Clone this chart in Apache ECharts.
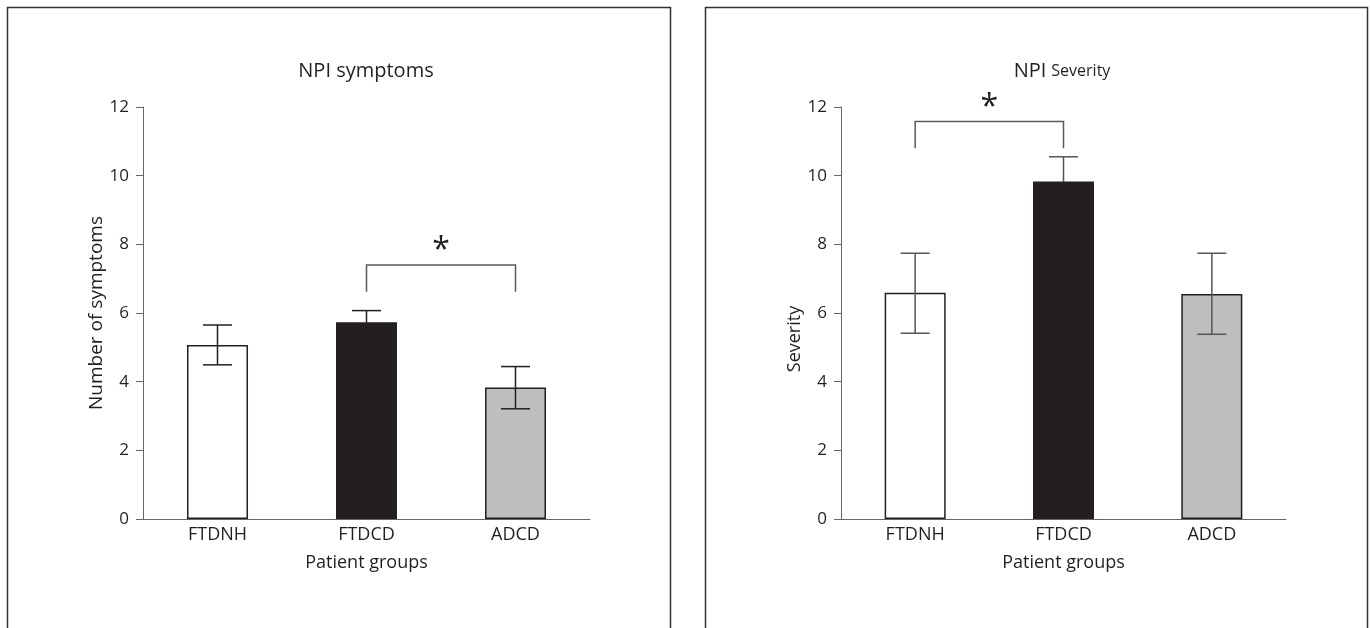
<!DOCTYPE html>
<html>
<head>
<meta charset="utf-8">
<script src="https://cdn.jsdelivr.net/npm/echarts@6/dist/echarts.min.js"></script>
<style>
html,body{margin:0;padding:0;background:#fff;}
#chart{width:1370px;height:628px;}
</style>
</head>
<body>
<div id="chart"></div>
<script>
// ---- data ----
var categories = ['FTDNH', 'FTDCD', 'ADCD'];
var barColors = ['#ffffff', '#231f20', '#bcbec0'];
var yTicks = [0, 2, 4, 6, 8, 10, 12];

var symptomsMean = [5.07, 5.73, 3.83];
var symptomsLow  = [4.49, 5.39, 3.21];
var symptomsHigh = [5.65, 6.07, 4.44];
var symptomsSig  = [1, 2, 7.40, 6.62, 8.05]; // from, to, bracket top, leg end, star

var severityMean = [6.59, 9.83, 6.55];
var severityLow  = [5.41, 9.11, 5.38];
var severityHigh = [7.74, 10.55, 7.74];
var severitySig  = [0, 1, 11.58, 10.80, 12.2];

var FONT = '"Open Sans", "Noto Sans", sans-serif';
var TXT = '#231f20';

function barData(vals) {
  return vals.map(function (v, i) {
    return { value: v, itemStyle: { color: barColors[i] } };
  });
}
function errData(mean, low, high) {
  return low.map(function (l, i) { return [i, l, high[i], mean[i]]; });
}
function errSeries(idx, mean, low, high, color) {
  return {
    type: 'custom', xAxisIndex: idx, yAxisIndex: idx, z: 5,
    data: errData(mean, low, high),
    renderItem: function (params, api) {
      var x = api.value(0);
      var lo = api.coord([x, api.value(1)]);
      var hi = api.coord([x, api.value(2)]);
      var mid = api.coord([x, api.value(3)]);
      var hw = 14.5;
      var st = { stroke: color, lineWidth: 1.5 };
      var lowColor = barColors[params.dataIndex] === '#231f20' ? '#231f20' : color;
      var st2 = { stroke: lowColor, lineWidth: 1.5 };
      return { type: 'group', children: [
        { type: 'line', shape: { x1: hi[0], y1: hi[1], x2: mid[0], y2: mid[1] }, style: st },
        { type: 'line', shape: { x1: mid[0], y1: mid[1], x2: lo[0], y2: lo[1] }, style: st2 },
        { type: 'line', shape: { x1: hi[0] - hw, y1: hi[1], x2: hi[0] + hw, y2: hi[1] }, style: st },
        { type: 'line', shape: { x1: lo[0] - hw, y1: lo[1], x2: lo[0] + hw, y2: lo[1] }, style: st2 }
      ]};
    }
  };
}
function sigSeries(idx, sig) {
  return {
    type: 'custom', xAxisIndex: idx, yAxisIndex: idx, z: 6, clip: false,
    data: [sig],
    renderItem: function (params, api) {
      var a = api.value(0), b = api.value(1);
      var pTopA = api.coord([a, api.value(2)]);
      var pTopB = api.coord([b, api.value(2)]);
      var pLegA = api.coord([a, api.value(3)]);
      var pLegB = api.coord([b, api.value(3)]);
      var starY = api.coord([a, api.value(4)])[1];
      var starX = (pTopA[0] + pTopB[0]) / 2;
      var st = { stroke: '#5a5a5a', lineWidth: 1.5, fill: null };
      return { type: 'group', children: [
        { type: 'polyline', shape: { points: [[pLegA[0], pLegA[1]], [pTopA[0], pTopA[1]], [pTopB[0], pTopB[1]], [pLegB[0], pLegB[1]]] }, style: st },
        { type: 'text', x: starX, y: starY + 8, style: { text: '*', fontSize: 32, fontFamily: FONT, fill: TXT, align: 'center', verticalAlign: 'middle' } }
      ]};
    }
  };
}

function xAxisCfg(idx) {
  return {
    type: 'category', gridIndex: idx, data: categories,
    axisLine: { lineStyle: { color: '#666', width: 1 } },
    axisTick: { show: false },
    axisLabel: { fontSize: 18, color: TXT, fontFamily: FONT, margin: 7 },
    name: 'Patient groups', nameLocation: 'middle', nameGap: 35,
    nameTextStyle: { fontSize: 18, color: TXT, fontFamily: FONT }
  };
}
function yAxisCfg(idx, name, nameSize, pad) {
  return {
    type: 'value', gridIndex: idx, min: yTicks[0], max: yTicks[yTicks.length - 1], interval: 2,
    axisLine: { show: true, lineStyle: { color: '#666', width: 1 } },
    axisTick: { show: true, length: 7, inside: false, lineStyle: { color: '#666' } },
    splitLine: { show: false },
    axisLabel: { fontSize: 17, color: TXT, fontFamily: FONT, margin: 14 },
    name: name, nameLocation: 'middle', nameGap: 37, nameRotate: 90,
    nameTextStyle: { fontSize: nameSize, color: TXT, fontFamily: FONT, padding: pad }
  };
}

var chart = echarts.init(document.getElementById('chart'), null, { renderer: 'canvas' });
chart.setOption({
  backgroundColor: '#ffffff',
  animation: false,
  title: [
    { text: 'NPI symptoms', left: 366, top: 61, textAlign: 'center', padding: 0,
      textStyle: { fontSize: 20, fontWeight: 'normal', color: TXT, fontFamily: FONT } },
    { text: '{a|NPI} {b|Severity}', left: 1062, top: 61, textAlign: 'center', padding: 0,
      textStyle: { fontWeight: 'normal', rich: {
        a: { fontSize: 20, fontWeight: 'normal', color: TXT, fontFamily: FONT },
        b: { fontSize: 16, fontWeight: 'normal', color: TXT, fontFamily: FONT }
      } } }
  ],
  grid: [
    { left: 143, top: 107, width: 447, height: 412 },
    { left: 841, top: 107, width: 445, height: 412 }
  ],
  xAxis: [xAxisCfg(0), xAxisCfg(1)],
  yAxis: [yAxisCfg(0, 'Number of symptoms', 19, [0, 0, 0, 0]), yAxisCfg(1, 'Severity', 18, [0, 52, 0, 0])],
  graphic: [
    { type: 'polyline', shape: { points: [[7.5, 640], [7.5, 7.5], [670.5, 7.5], [670.5, 640]] }, style: { stroke: '#333', lineWidth: 1.5, fill: null } },
    { type: 'polyline', shape: { points: [[705.5, 640], [705.5, 7.5], [1367.5, 7.5], [1367.5, 640]] }, style: { stroke: '#333', lineWidth: 1.5, fill: null } }
  ],
  series: [
    { type: 'bar', xAxisIndex: 0, yAxisIndex: 0, barWidth: 61, data: barData(symptomsMean),
      itemStyle: { borderColor: '#231f20', borderWidth: 1.5 } },
    errSeries(0, symptomsMean, symptomsLow, symptomsHigh, '#231f20'),
    sigSeries(0, symptomsSig),
    { type: 'bar', xAxisIndex: 1, yAxisIndex: 1, barWidth: 61, data: barData(severityMean),
      itemStyle: { borderColor: '#231f20', borderWidth: 1.5 } },
    errSeries(1, severityMean, severityLow, severityHigh, '#555'),
    sigSeries(1, severitySig)
  ]
});
</script>
</body>
</html>
